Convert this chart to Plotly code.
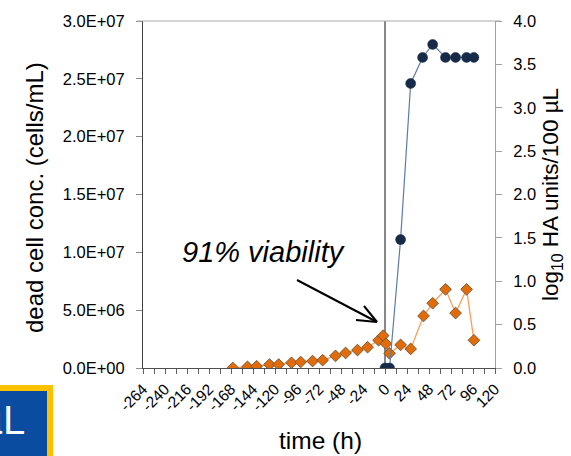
import plotly.graph_objects as go

# Dead cell concentration (cells/mL) over time, left axis
dead_time = [-166, -150, -140, -126, -116, -102, -92, -79, -68, -54, -43, -30, -19,
             -7, -2, 1, 5, 17, 28, 42, 52, 66, 77, 89, 97]
dead_conc = [0.0, 0.1e6, 0.15e6, 0.3e6, 0.3e6, 0.45e6, 0.52e6, 0.6e6, 0.68e6, 1.05e6,
             1.3e6, 1.55e6, 1.8e6, 2.4e6, 2.8e6, 2.1e6, 1.27e6, 2.0e6, 1.65e6, 4.5e6,
             5.6e6, 6.8e6, 4.75e6, 6.8e6, 2.4e6]

# HA titre (log10 HA units / 100 uL) after infection, right axis
ha_time = [0, 5, 17, 28, 41, 52, 66, 77, 89, 97]
ha_log = [0.0, 0.0, 1.48, 3.28, 3.58, 3.73, 3.58, 3.58, 3.58, 3.58]

x_ticks = list(range(-264, 121, 24))
x_tick_text = [str(v) for v in x_ticks]  # plain hyphen minus signs
y_ticks = [0, 5e6, 1e7, 1.5e7, 2e7, 2.5e7, 3e7]
y_tick_text = ["0.0E+00", "5.0E+06", "1.0E+07", "1.5E+07", "2.0E+07", "2.5E+07", "3.0E+07"]
y2_ticks = [0, 0.5, 1.0, 1.5, 2.0, 2.5, 3.0, 3.5, 4.0]

W, H = 571, 456
L, R, T, B = 143, 495, 21, 368


def px(x):
    return (x - L) / (R - L)


def py(y):
    return (B - y) / (B - T)


FONT = "Liberation Sans, Arial, sans-serif"

fig = go.Figure()

fig.add_trace(go.Scatter(
    x=dead_time, y=dead_conc, mode="lines+markers", yaxis="y",
    line=dict(color="#F5A05E", width=1.3),
    marker=dict(symbol="diamond", size=9, color="#E36C0A",
                line=dict(color="#6E5235", width=0.9)),
    showlegend=False,
))

fig.add_trace(go.Scatter(
    x=ha_time, y=ha_log, mode="lines+markers", yaxis="y2",
    line=dict(color="#5D7CA6", width=1.2),
    marker=dict(symbol="circle", size=10, color="#172A4A",
                line=dict(color="#172A4A", width=0.5)),
    showlegend=False,
))

shapes = [
    # time of infection
    dict(type="line", xref="x", yref="paper", x0=0, x1=0, y0=0, y1=1,
         line=dict(color="#111111", width=1), layer="below"),
    # top border of the plot area
    dict(type="line", xref="paper", yref="paper", x0=px(137), x1=px(501), y0=1, y1=1,
         line=dict(color="#A8A8A8", width=1)),
    # arrow pointing at the viability point
    dict(type="line", xref="paper", yref="paper", x0=px(297), y0=py(280), x1=px(377), y1=py(322),
         line=dict(color="black", width=2)),
    dict(type="line", xref="paper", yref="paper", x0=px(364), y0=py(306), x1=px(377), y1=py(322),
         line=dict(color="black", width=2)),
    dict(type="line", xref="paper", yref="paper", x0=px(356), y0=py(320), x1=px(377), y1=py(322),
         line=dict(color="black", width=2)),
    # blue badge in the corner
    dict(type="rect", xref="paper", yref="paper", x0=px(-20), x1=px(50), y0=py(388), y1=py(480),
         fillcolor="#0A4DA0", line=dict(color="#FFC000", width=6)),
]

annotations = [
    dict(text="<i>91% viability</i>", xref="paper", yref="paper", x=px(263), y=py(252),
         xanchor="center", yanchor="middle", showarrow=False,
         font=dict(family=FONT, size=29, color="black")),
    dict(text="dead cell conc. (cells/mL)", xref="paper", yref="paper", x=px(34), y=py(198),
         xanchor="center", yanchor="middle", textangle=-90, showarrow=False,
         font=dict(family=FONT, size=24, color="black")),
    dict(text="log<sub>10</sub> HA units/100 µL", xref="paper", yref="paper", x=px(552), y=py(195),
         xanchor="center", yanchor="middle", textangle=-90, showarrow=False,
         font=dict(family=FONT, size=22.5, color="black")),
    dict(text="time (h)", xref="paper", yref="paper", x=px(320), y=py(441),
         xanchor="center", yanchor="middle", showarrow=False,
         font=dict(family=FONT, size=24.5, color="black")),
    dict(text="µL", xref="paper", yref="paper", x=px(27), y=py(420),
         xanchor="right", yanchor="middle", showarrow=False,
         font=dict(family="Liberation Sans Narrow, Arial Narrow, sans-serif", size=40, color="white")),
]

fig.update_layout(
    width=W, height=H,
    margin=dict(l=L, r=W - R, t=T, b=H - B, pad=0),
    paper_bgcolor="white", plot_bgcolor="white",
    font=dict(family=FONT, size=15, color="black"),
    xaxis=dict(
        range=[-264, 120], tickvals=x_ticks, ticktext=x_tick_text, tickangle=-45,
        showgrid=False, zeroline=False,
        showline=True, linecolor="#505050", linewidth=1,
        ticks="outside", ticklen=5, tickcolor="#606060",
        minor=dict(dtick=12, tick0=-264, ticks="outside", ticklen=5, tickcolor="#606060"),
        tickfont=dict(size=15.5),
    ),
    yaxis=dict(
        range=[0, 3e7], tickvals=y_ticks, ticktext=y_tick_text,
        showgrid=False, zeroline=False,
        showline=True, linecolor="#404040", linewidth=1,
        ticks="outside", ticklen=6, tickcolor="#8A8A8A",
        ticklabelstandoff=8, tickfont=dict(size=16.5),
    ),
    yaxis2=dict(
        range=[0, 4], tickvals=y2_ticks, tickformat=".1f",
        overlaying="y", side="right",
        showgrid=False, zeroline=False,
        showline=True, linecolor="#A0A0A0", linewidth=1,
        ticks="outside", ticklen=6, tickcolor="#A0A0A0",
        ticklabelstandoff=8, tickfont=dict(size=16.5),
    ),
    shapes=shapes,
    annotations=annotations,
)

fig.write_html("out.html")
